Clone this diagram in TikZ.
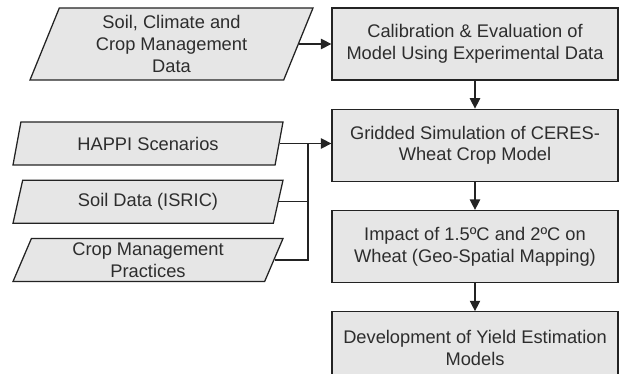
\documentclass[tikz,border=0pt]{standalone}
\usepackage{fontspec}
\setmainfont{Liberation Sans}
\usetikzlibrary{positioning,shapes.geometric,arrows.meta}

\definecolor{boxfill}{RGB}{230,230,230}
\definecolor{boxline}{RGB}{35,35,35}
\definecolor{boxtext}{RGB}{45,45,45}

\tikzset{
    stepbox/.style={draw=boxline, fill=boxfill, line width=0.9pt, text=boxtext,
        minimum width=7.15cm, minimum height=1.8cm, align=center,
        font=\fontsize{13}{15.6}\selectfont},
    databox/.style={trapezium, trapezium left angle=64, trapezium right angle=116,
        trapezium stretches body=true, draw=boxline, fill=boxfill, line width=0.9pt,
        text=boxtext, align=center, inner sep=1pt,
        font=\fontsize{13}{15.6}\selectfont},
    flow/.style={draw=boxline, line width=0.9pt, -{Triangle[length=2.6mm,width=2.6mm]}},
    link/.style={draw=boxline, line width=0.9pt}
}

\begin{document}
\begin{tikzpicture}
    \useasboundingbox (0,0) rectangle (15.575,9.35);
    % main chain on the right
    \node[stepbox] (calib) at (11.875,8.25) {Calibration \& Evaluation of\\Model Using Experimental Data};
    \node[stepbox, below=0.7cm of calib] (grid) {Gridded Simulation of CERES-\\Wheat Crop Model};
    \node[stepbox, below=0.7cm of grid] (impact) {Impact of 1.5ºC and 2ºC on\\Wheat (Geo-Spatial Mapping)};
    \node[stepbox, below=0.7cm of impact] (yield) {Development of Yield Estimation\\Models};
    % inputs on the left
    \node[databox, minimum width=7.075cm, minimum height=1.8cm] (obs) at (4.2875,8.25) {Soil, Climate and\\Crop Management\\Data};
    \node[databox, minimum width=6.75cm, minimum height=1.075cm] (happi) at (3.7,5.7625) {HAPPI Scenarios};
    \node[databox, minimum width=6.75cm, minimum height=1.075cm, below=0.35cm of happi] (soil) {Soil Data (ISRIC)};
    \node[databox, minimum width=6.75cm, minimum height=1.075cm, below=0.35cm of soil] (mgmt) {Crop Management\\Practices};
    \coordinate (bus) at (7.7,0 |- happi.east);
    \draw[flow] (obs.east) -- (obs.east -| calib.west);
    \draw[flow] (calib) -- (grid);
    \draw[flow] (grid) -- (impact);
    \draw[flow] (impact) -- (yield);
    \draw[flow] (happi.east) -- (happi.east -| grid.west);
    \draw[link] (soil.east) -- (soil.east -| bus);
    \draw[link] (mgmt.east) -| (bus);
\end{tikzpicture}
\end{document}
